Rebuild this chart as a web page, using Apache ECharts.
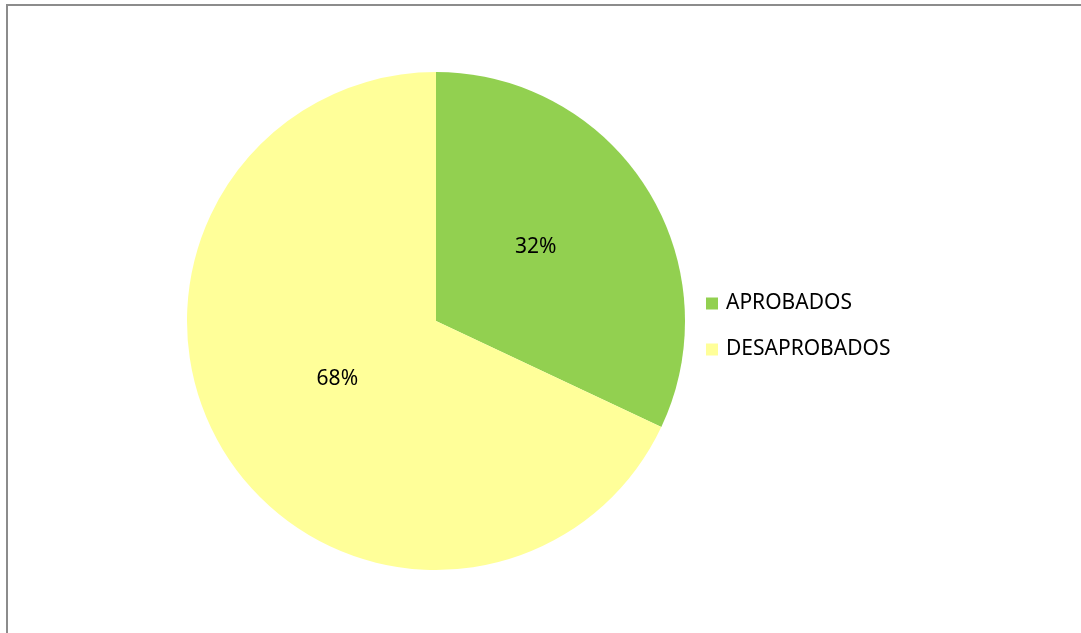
<!DOCTYPE html>
<html>
<head>
<meta charset="utf-8">
<script src="https://cdn.jsdelivr.net/npm/echarts@6/dist/echarts.min.js"></script>
<style>
 html, body { margin: 0; padding: 0; background: #fff; }
 #chart { width: 1081px; height: 633px; }
</style>
</head>
<body>
<div id="chart"></div>
<script>
const categories = ['APROBADOS', 'DESAPROBADOS'];
const values = [32, 68];
const sliceColors = ['#92D050', '#FFFF99'];
// small nudges so the labels sit where the original put them
const labelOffsets = [[-8, -6], [9, -10]];

const chart = echarts.init(document.getElementById('chart'), null, { renderer: 'canvas' });

chart.setOption({
 backgroundColor: '#ffffff',
 animation: false,
 graphic: [
  {
   type: 'rect',
   shape: { x: 7, y: 5, width: 1100, height: 700 },
   style: { fill: 'none', stroke: '#8c8c8c', lineWidth: 2 },
   silent: true,
  },
 ],
 legend: {
  orient: 'vertical',
  left: 701,
  top: 288,
  icon: 'rect',
  itemWidth: 12,
  itemHeight: 12,
  itemGap: 25,
  data: categories,
  textStyle: {
   color: '#000',
   fontSize: 21,
   fontFamily: 'Noto Sans',
   padding: [0, 0, 0, 3],
  },
 },
 series: [
  {
   type: 'pie',
   center: [436, 321],
   radius: 249,
   startAngle: 90,
   clockwise: true,
   label: {
    show: true,
    position: 'inside',
    formatter: '{d}%',
    color: '#000',
    fontSize: 21,
    fontFamily: 'Noto Sans',
   },
   labelLine: { show: false },
   itemStyle: { borderWidth: 0 },
   emphasis: { disabled: true },
   data: categories.map((name, i) => ({
    name: name,
    value: values[i],
    itemStyle: { color: sliceColors[i] },
    label: { offset: labelOffsets[i] },
   })),
  },
 ],
});
</script>
</body>
</html>
